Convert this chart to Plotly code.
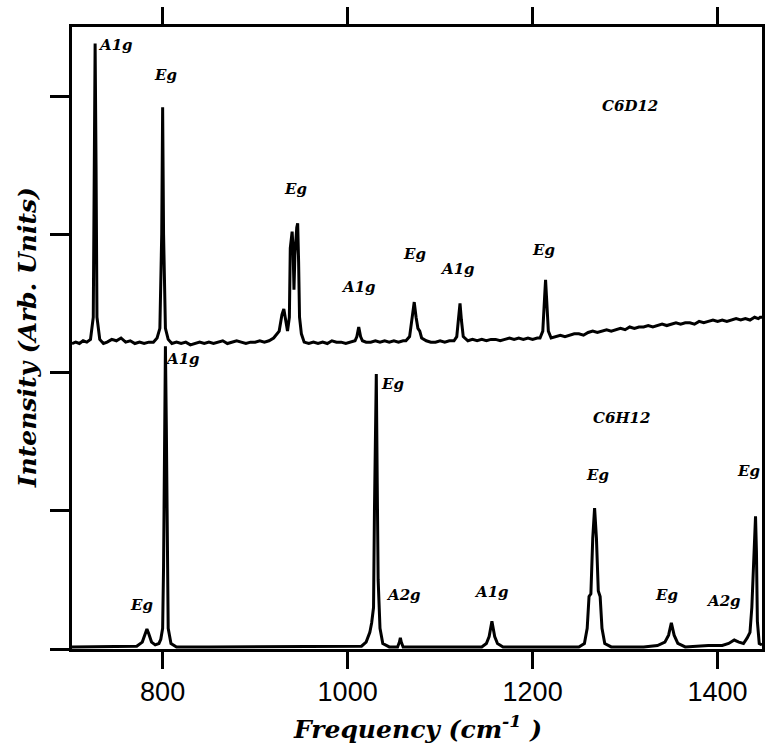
import plotly.graph_objects as go

# ---- data ----
d12_x = [702, 706, 710, 714, 718, 722, 725, 726, 727, 728, 729, 732, 736, 740, 745, 750, 755, 760, 765,
         770, 775, 780, 785, 790, 794, 797, 799, 800, 801, 803, 806, 810, 815, 820, 825, 830, 835, 840,
         845, 850, 855, 860, 865, 870, 875, 880, 885, 890, 895, 900, 905, 910, 915, 920, 926, 929, 931,
         933, 935, 937, 938, 940, 941, 942, 943, 945, 946, 947, 948, 950, 953, 958, 963, 968, 973, 978,
         983, 988, 993, 998, 1003, 1008, 1010, 1012, 1014, 1016, 1020, 1025, 1030, 1035, 1040, 1045,
         1050, 1055, 1060, 1063, 1067, 1070, 1072, 1074, 1076, 1078, 1080, 1085, 1090, 1095, 1100, 1105,
         1110, 1115, 1118, 1120, 1121.5, 1123, 1125, 1130, 1135, 1140, 1145, 1150, 1155, 1160, 1165,
         1170, 1175, 1180, 1185, 1190, 1195, 1200, 1205, 1208, 1211, 1213, 1214, 1215, 1217, 1220, 1225,
         1230, 1235, 1240, 1245, 1250, 1255, 1260, 1265, 1270, 1275, 1280, 1285, 1290, 1295, 1300, 1305,
         1310, 1315, 1320, 1325, 1330, 1335, 1340, 1345, 1350, 1355, 1360, 1365, 1370, 1375, 1380, 1385,
         1390, 1395, 1400, 1405, 1410, 1415, 1420, 1425, 1430, 1435, 1440, 1444, 1446, 1448]
d12_y = [2.21, 2.22, 2.21, 2.23, 2.22, 2.24, 2.40, 3.50, 4.38, 3.50, 2.40, 2.24, 2.21, 2.22, 2.24, 2.23,
         2.25, 2.22, 2.23, 2.21, 2.22, 2.21, 2.22, 2.22, 2.25, 2.32, 3.00, 3.92, 3.00, 2.32, 2.24, 2.21,
         2.22, 2.21, 2.22, 2.20, 2.21, 2.22, 2.21, 2.22, 2.21, 2.22, 2.23, 2.21, 2.22, 2.23, 2.22, 2.21,
         2.22, 2.22, 2.23, 2.22, 2.23, 2.25, 2.30, 2.42, 2.46, 2.38, 2.30, 2.40, 2.90, 3.02, 2.90, 2.60,
         2.85, 3.05, 3.08, 2.80, 2.40, 2.28, 2.22, 2.21, 2.22, 2.21, 2.22, 2.21, 2.23, 2.22, 2.22, 2.21,
         2.22, 2.23, 2.26, 2.33, 2.26, 2.23, 2.22, 2.22, 2.23, 2.22, 2.23, 2.22, 2.23, 2.22, 2.23, 2.23,
         2.26, 2.40, 2.51, 2.40, 2.32, 2.30, 2.25, 2.23, 2.22, 2.22, 2.23, 2.22, 2.23, 2.23, 2.26, 2.40,
         2.50, 2.38, 2.26, 2.23, 2.24, 2.23, 2.24, 2.23, 2.24, 2.24, 2.23, 2.24, 2.25, 2.24, 2.25, 2.24,
         2.25, 2.24, 2.25, 2.25, 2.30, 2.55, 2.67, 2.55, 2.30, 2.25, 2.26, 2.27, 2.26, 2.27, 2.28, 2.28,
         2.27, 2.29, 2.30, 2.29, 2.30, 2.31, 2.30, 2.31, 2.32, 2.31, 2.33, 2.32, 2.33, 2.33, 2.34, 2.33,
         2.34, 2.35, 2.34, 2.35, 2.36, 2.35, 2.36, 2.36, 2.35, 2.37, 2.36, 2.37, 2.38, 2.37, 2.38, 2.37,
         2.38, 2.39, 2.38, 2.39, 2.38, 2.40, 2.39, 2.40, 2.40, 2.43]

h12_x = [702, 720, 740, 760, 772, 778, 781, 783, 785, 788, 792, 796, 798, 800, 801, 802, 803, 804, 805,
         806, 809, 815, 850, 900, 950, 1000, 1015, 1020, 1024, 1026, 1028, 1029, 1031, 1032, 1033, 1035,
         1038, 1045, 1054, 1056, 1057, 1058, 1060, 1100, 1145, 1150, 1153, 1156, 1159, 1162, 1168, 1200,
         1250, 1256, 1259, 1261, 1263, 1265, 1267, 1269, 1271, 1273, 1275, 1278, 1285, 1320, 1335, 1343,
         1347, 1350, 1353, 1357, 1365, 1390, 1405, 1412, 1418, 1423, 1428, 1432, 1435, 1437, 1439, 1441,
         1442, 1443, 1445, 1448]
h12_y = [0.015, 0.015, 0.015, 0.015, 0.02, 0.05, 0.11, 0.145, 0.11, 0.05, 0.03, 0.04, 0.07, 0.15, 0.60,
         1.60, 2.19, 1.60, 0.60, 0.15, 0.04, 0.015, 0.015, 0.015, 0.015, 0.015, 0.02, 0.05, 0.12, 0.19,
         0.30, 1.00, 1.99, 1.20, 0.50, 0.15, 0.04, 0.015, 0.015, 0.05, 0.08, 0.05, 0.015, 0.015, 0.015,
         0.04, 0.09, 0.20, 0.09, 0.04, 0.015, 0.015, 0.015, 0.04, 0.15, 0.38, 0.40, 0.80, 1.02, 0.80,
         0.42, 0.38, 0.15, 0.04, 0.015, 0.015, 0.025, 0.05, 0.10, 0.19, 0.10, 0.04, 0.015, 0.025, 0.025,
         0.04, 0.065, 0.05, 0.04, 0.08, 0.12, 0.30, 0.70, 0.96, 0.70, 0.20, 0.04, 0.03]

# peak labels: (text, x, y)
label_text = ["A1g", "Eg", "Eg", "A1g", "Eg", "A1g", "Eg",
              "A1g", "Eg", "A2g", "A1g", "Eg", "Eg", "A2g", "Eg", "Eg"]
label_x = [749, 803, 944, 1012, 1072, 1119, 1212,
           822, 1048, 1060, 1156, 1270, 1345, 1406, 1433, 777]
label_y = [4.37, 4.15, 3.33, 2.62, 2.86, 2.75, 2.89,
           2.10, 1.92, 0.39, 0.41, 1.26, 0.39, 0.35, 1.29, 0.32]
sample_text = ["C6D12", "C6H12"]
sample_x = [1305, 1296]
sample_y = [3.93, 1.67]

x_ticks = [800, 1000, 1200, 1400]
y_ticks = [0, 1, 2, 3, 4]

fig = go.Figure()
fig.add_trace(go.Scatter(x=d12_x, y=d12_y, mode="lines",
                         line=dict(color="black", width=3), showlegend=False))
fig.add_trace(go.Scatter(x=h12_x, y=h12_y, mode="lines",
                         line=dict(color="black", width=3), showlegend=False))

lab_font = dict(family="DejaVu Serif", size=15, color="black", weight="bold", style="italic")
for t, x, y in zip(label_text, label_x, label_y):
    fig.add_annotation(x=x, y=y, text=t, showarrow=False, font=lab_font)
for t, x, y in zip(sample_text, sample_x, sample_y):
    fig.add_annotation(x=x, y=y, text=t, showarrow=False, font=lab_font)

title_font = dict(family="DejaVu Serif", size=25, color="black", weight="bold", style="italic")
fig.add_annotation(xref="paper", yref="paper", x=-0.065, y=0.5, text="Intensity (Arb. Units)",
                   textangle=-90, showarrow=False, font=title_font, xanchor="center", yanchor="middle")
fig.add_annotation(xref="paper", yref="paper", x=0.5, y=-0.127, text="Frequency (cm<sup>-1</sup> )",
                   showarrow=False, font=title_font, xanchor="center", yanchor="middle")

fig.update_layout(
    width=770, height=748,
    margin=dict(l=72, r=5, t=27, b=99),
    paper_bgcolor="white", plot_bgcolor="white",
    xaxis=dict(range=[702, 1448], tickvals=x_ticks, ticktext=[str(v) for v in x_ticks],
               ticks="outside", ticklen=17, tickwidth=3, tickcolor="black",
               showline=True, linewidth=3, linecolor="black", mirror="ticks",
               showgrid=False, zeroline=False,
               tickfont=dict(family="Liberation Sans", size=27, color="black")),
    yaxis=dict(range=[0, 4.5], tickvals=y_ticks, showticklabels=False,
               ticks="outside", ticklen=19, tickwidth=3, tickcolor="black",
               showline=True, linewidth=3, linecolor="black", mirror=True,
               showgrid=False, zeroline=False),
)

fig.write_html("out.html")
